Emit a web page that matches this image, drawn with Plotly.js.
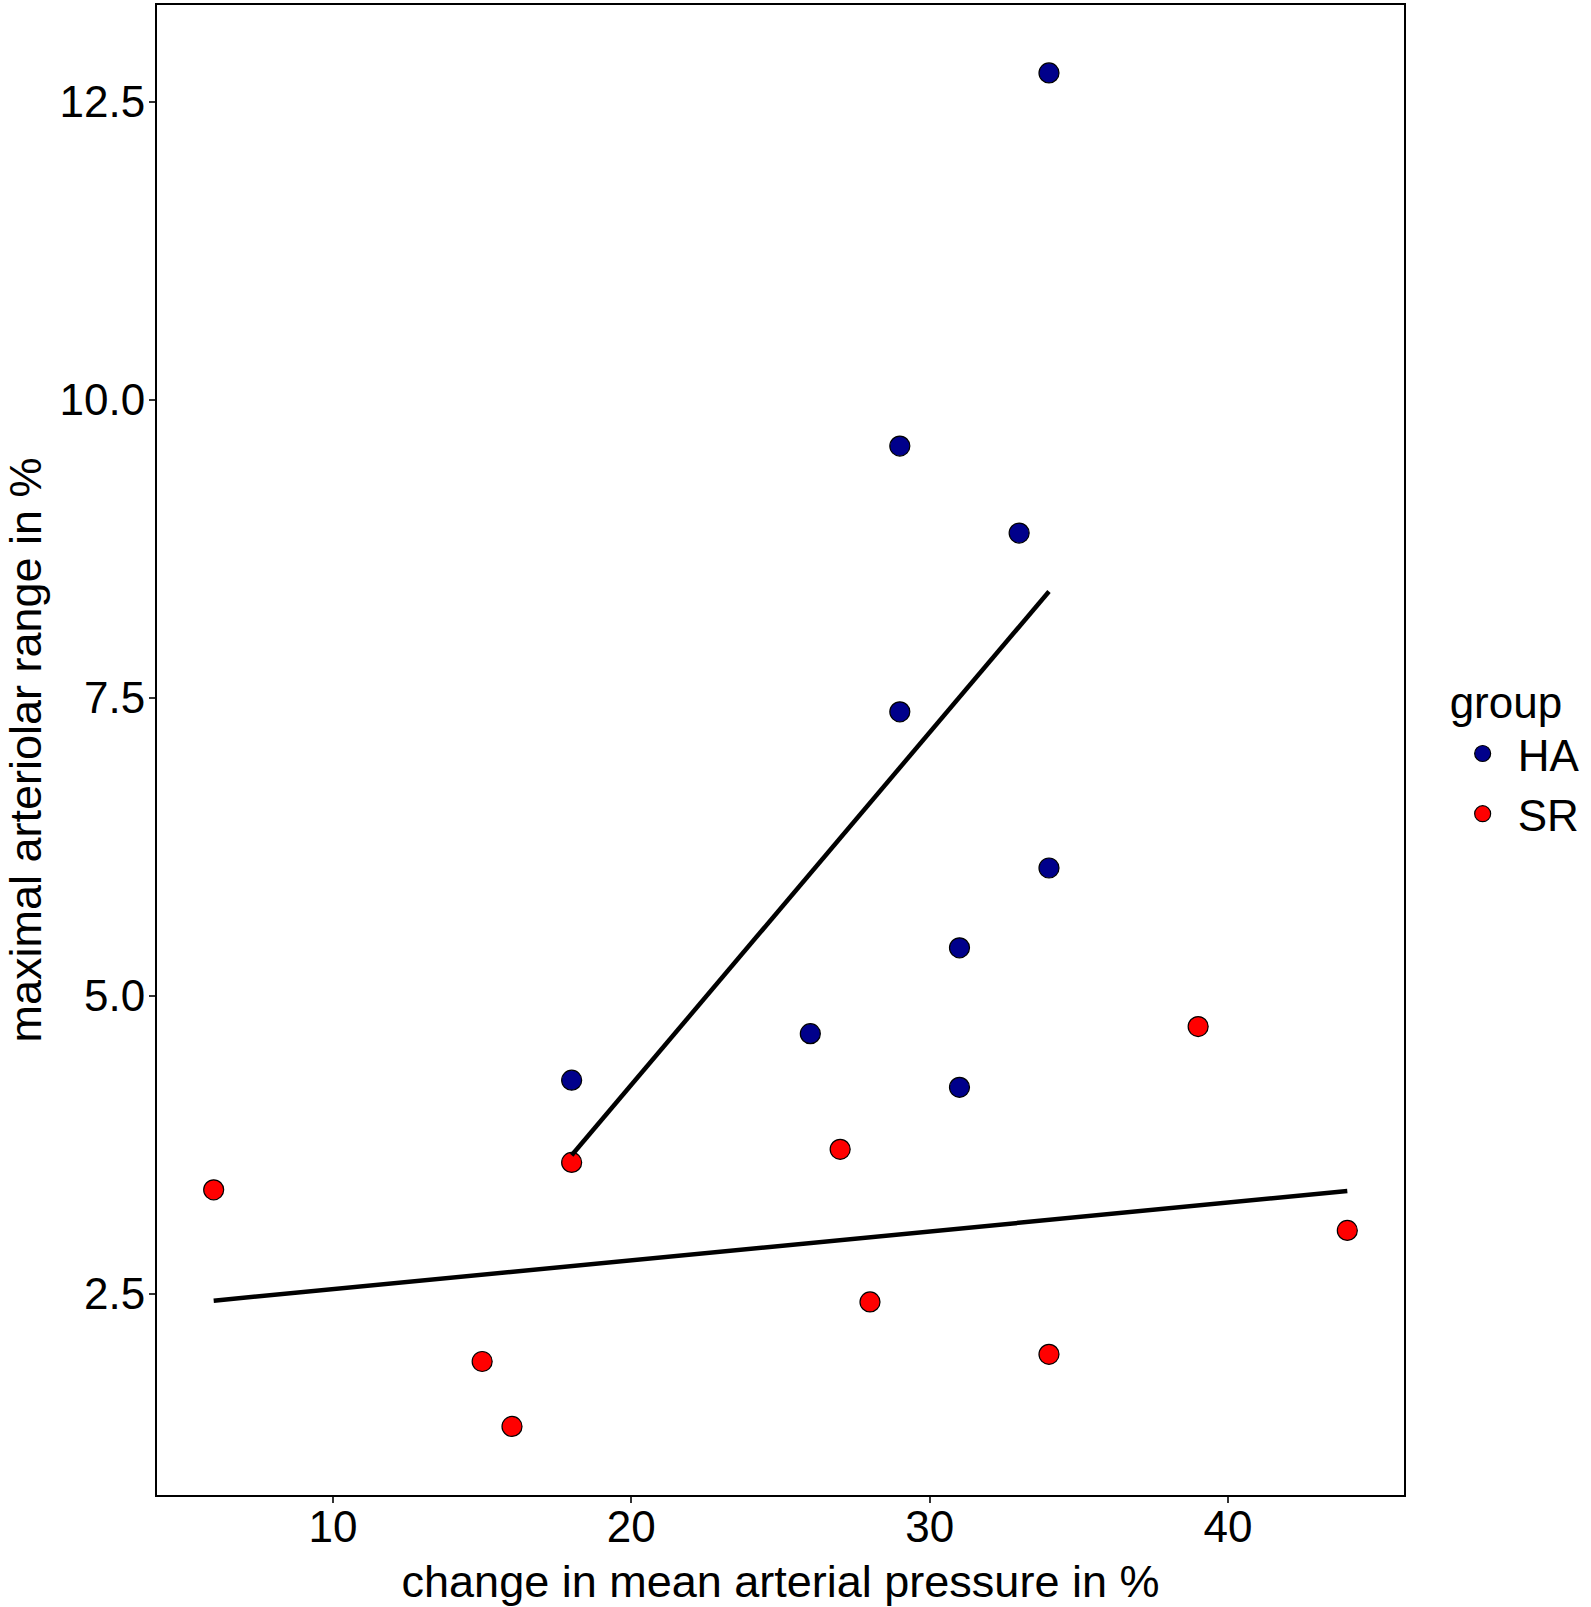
<!DOCTYPE html>
<html>
<head>
<meta charset="utf-8">
<script src="https://cdn.plot.ly/plotly-3.0.1.min.js"></script>
<style>
  html, body { margin: 0; padding: 0; background: #fff; }
  #chart { width: 1591px; height: 1607px; }
</style>
</head>
<body>
<div id="chart"></div>
<script>
// points
const haX = [18, 26, 29, 29, 31, 31, 33, 34, 34];
const haY = [4.29, 4.68, 9.61, 7.38, 5.40, 4.23, 8.88, 12.74, 6.07];
const srX = [6, 15, 16, 18, 27, 28, 34, 39, 44];
const srY = [3.37, 1.93, 1.385, 3.60, 3.71, 2.43, 1.99, 4.74, 3.03];

// fitted lines, ends
const haFitX = [18, 34];
const haFitY = [3.66, 8.39];
const srFitX = [6, 44];
const srFitY = [2.44, 3.36];

const groups = ['HA', 'SR'];
const groupColors = ['#00008B', '#FF0000'];

const FONT = 'Liberation Sans, Arial, sans-serif';

const pointTrace = (name, x, y, color) => ({
    type: 'scatter',
    mode: 'markers',
    name: name,
    x: x,
    y: y,
    marker: {size: 20, color: color, line: {color: '#000', width: 1.2}},
    hoverinfo: 'x+y'
});

const fitTrace = (x, y) => ({
    type: 'scatter',
    mode: 'lines',
    x: x,
    y: y,
    line: {color: '#000', width: 4.5},
    showlegend: false,
    hoverinfo: 'skip'
});

const data = [
    pointTrace(groups[0], haX, haY, groupColors[0]),
    pointTrace(groups[1], srX, srY, groupColors[1]),
    fitTrace(haFitX, haFitY),
    fitTrace(srFitX, srFitY)
];

const axisCommon = {
    showgrid: false,
    zeroline: false,
    showline: true,
    mirror: true,
    linecolor: '#000',
    linewidth: 2,
    ticks: 'outside',
    ticklen: 6,
    tickwidth: 2,
    tickcolor: '#333',
    tickfont: {family: FONT, size: 44, color: '#000'}
};

const layout = {
    width: 1591,
    height: 1607,
    margin: {l: 157, r: 187, t: 5, b: 112},
    paper_bgcolor: '#fff',
    plot_bgcolor: '#fff',
    font: {family: FONT, color: '#000'},
    xaxis: Object.assign({}, axisCommon, {
        range: [4.1, 45.9],
        tickvals: [10, 20, 30, 40],
        ticklabelstandoff: -14,
        title: {text: 'change in mean arterial pressure in %', font: {family: FONT, size: 45, color: '#000'}, standoff: 30}
    }),
    yaxis: Object.assign({}, axisCommon, {
        range: [0.81, 13.31],
        tickvals: [2.5, 5, 7.5, 10, 12.5],
        tickformat: '.1f',
        ticklabelstandoff: -5,
        title: {text: 'maximal arteriolar range in %', font: {family: FONT, size: 45, color: '#000'}, standoff: 19}
    }),
    legend: {
        x: 1.035,
        y: 0.4965,
        xanchor: 'left',
        yanchor: 'middle',
        itemsizing: 'trace',
        itemwidth: 60,
        font: {family: FONT, size: 44, color: '#000'},
        title: {text: 'group', font: {family: FONT, size: 44, color: '#000'}},
        bgcolor: 'rgba(0,0,0,0)'
    },
    showlegend: true
};

Plotly.newPlot('chart', data, layout, {displayModeBar: false, staticPlot: true});
</script>
</body>
</html>
